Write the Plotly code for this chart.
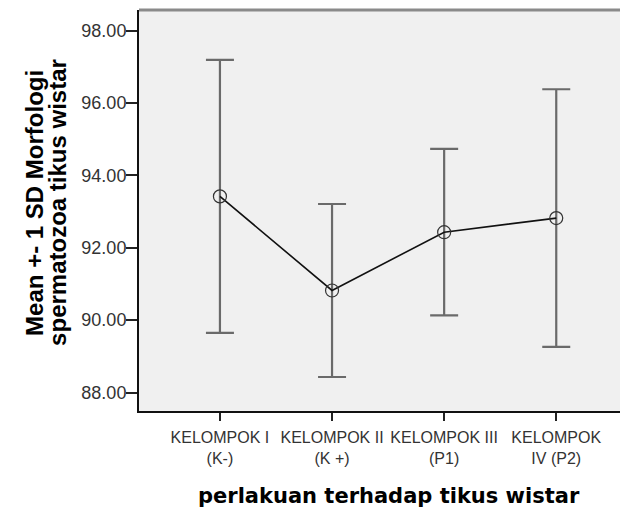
import plotly.graph_objects as go

categories = ["KELOMPOK I<br>(K-)", "KELOMPOK II<br>(K +)", "KELOMPOK III<br>(P1)", "KELOMPOK<br>IV (P2)"]
means = [93.42, 90.82, 92.43, 92.82]
sds = [3.77, 2.39, 2.30, 3.56]
y_ticks = [88, 90, 92, 94, 96, 98]
x_idx = list(range(len(categories)))

# page body has an 8px margin; figure is sized/offset to compensate
fig = go.Figure()
fig.add_trace(go.Scatter(
    x=x_idx, y=means, mode="lines+markers",
    line=dict(color="#111111", width=1.6),
    marker=dict(symbol="circle-open", size=13, color="#333333", line=dict(width=1.2, color="#333333")),
    error_y=dict(type="data", array=sds, visible=True, color="#6a6a6a", thickness=2.2, width=14),
    showlegend=False,
))

fig.update_layout(
    width=620, height=504,
    margin=dict(l=131, r=0, t=2, b=101),
    paper_bgcolor="white", plot_bgcolor="#f0f0f0",
    xaxis=dict(
        range=[-0.722, 3.64], tickvals=x_idx, ticktext=categories,
        showline=True, linecolor="#111111", linewidth=2, mirror=False,
        ticks="outside", ticklen=8, tickwidth=1.5, tickcolor="#222222",
        showgrid=False, zeroline=False, ticklabelstandoff=3,
        tickfont=dict(family="Liberation Sans, Arial", size=16, color="#333333"),
    ),
    yaxis=dict(
        range=[87.49, 98.57], tickvals=y_ticks, tickformat=".2f",
        showline=True, linecolor="#111111", linewidth=2,
        ticks="outside", ticklen=11, tickwidth=1.5, tickcolor="#222222",
        showgrid=False, zeroline=False, ticklabelstandoff=-4,
        tickfont=dict(family="Liberation Sans, Arial", size=18, color="#333333"),
    ),
    shapes=[dict(type="line", xref="paper", yref="paper", x0=0, x1=1, y0=1, y1=1,
                 line=dict(color="#8a8a8a", width=3))],
    annotations=[
        dict(text="Mean +- 1 SD Morfologi", xref="paper", yref="paper",
             x=(35 - 139) / 489, y=0.519, xanchor="center", yanchor="middle",
             textangle=-90, showarrow=False,
             font=dict(family="Liberation Sans, Arial", size=24, color="black", weight="bold")),
        dict(text="spermatozoa tikus wistar", xref="paper", yref="paper",
             x=(58 - 139) / 489, y=0.519, xanchor="center", yanchor="middle",
             textangle=-90, showarrow=False,
             font=dict(family="Liberation Sans, Arial", size=24, color="black", weight="bold")),
        dict(text="perlakuan terhadap tikus wistar", xref="paper", yref="paper",
             x=(389 - 139) / 489, y=(411 - 496) / 401, xanchor="center", yanchor="middle",
             showarrow=False,
             font=dict(family="DejaVu Sans", size=21, color="black", weight="bold")),
    ],
)

fig.write_html("out.html")
